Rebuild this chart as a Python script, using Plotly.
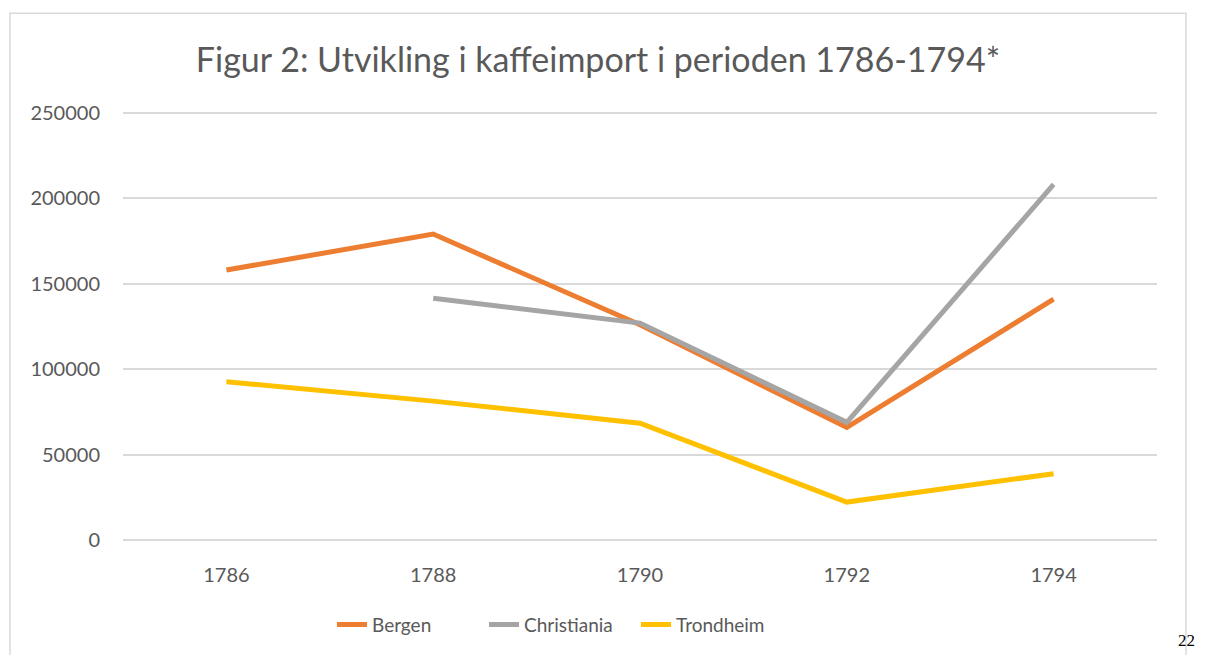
import plotly.graph_objects as go

years = ["1786", "1788", "1790", "1792", "1794"]
bergen = [158000, 179000, 126000, 66000, 141000]
christiania = [None, 141500, 127000, 69000, 208000]
trondheim = [92700, 81400, 68500, 22400, 39000]

title = "Figur 2: Utvikling i kaffeimport i perioden 1786-1794*"
FONT = "Lato"
TXT = "#595959"

OFF = 8  # page body margin
YMAX = 250000
PAD = 1500  # small range padding so edge gridlines are drawn
W, H = 1206 - OFF, 655 - OFF
pw = 1034
ppv = 427 / YMAX  # pixels per value
ph = ppv * (YMAX + 2 * PAD)
L = 123 - OFF
T = 113 - OFF - PAD * ppv
R = W - L - pw
B = H - T - ph

def px_x(x):
    return (x - OFF - L) / pw

def px_y(y):
    return (T + ph - (y - OFF)) / ph

fig = go.Figure()
for name, vals, col in [("Bergen", bergen, "#ED7D31"),
                        ("Christiania", christiania, "#A5A5A5"),
                        ("Trondheim", trondheim, "#FFC000")]:
    fig.add_trace(go.Scatter(x=years, y=vals, name=name, mode="lines",
                             line=dict(color=col, width=5), connectgaps=False))

fig.update_layout(
    width=W, height=H,
    margin=dict(l=L, r=R, t=T, b=B),
    paper_bgcolor="white", plot_bgcolor="white",
    font=dict(family=FONT, color=TXT),
    title=dict(text=title, x=(598 - OFF) / W, xanchor="center", xref="container",
               y=1 - (60 - OFF) / H, yanchor="middle", yref="container",
               font=dict(size=34, color=TXT, family=FONT)),
    legend=dict(orientation="h", x=px_x(332), xanchor="left", y=px_y(624), yanchor="middle",
                font=dict(size=19, color=TXT, family=FONT),
                entrywidthmode="pixels", entrywidth=107,
                bgcolor="rgba(0,0,0,0)"),
    xaxis=dict(type="category", range=[-0.5, 4.5], showgrid=False, showline=False,
               zeroline=False, ticks="", tickfont=dict(size=20, color=TXT), ticklabelstandoff=18),
    yaxis=dict(range=[-PAD, YMAX + PAD], tickvals=[0, 50000, 100000, 150000, 200000, 250000],
               tickformat="d", showgrid=True,
               gridcolor="#D9D9D9", gridwidth=1.5, zeroline=False, showline=False,
               ticks="", tickfont=dict(size=20, color=TXT), ticklabelstandoff=22),
    shapes=[dict(type="rect", xref="paper", yref="paper",
                 x0=px_x(10), x1=px_x(1186), y0=px_y(662), y1=px_y(14),
                 line=dict(color="#D9D9D9", width=1.5), fillcolor="rgba(0,0,0,0)", layer="below")],
    annotations=[dict(text="22", xref="paper", yref="paper", x=px_x(1197), y=px_y(640),
                      xanchor="right", yanchor="middle", showarrow=False,
                      font=dict(family="Liberation Serif", size=17, color="black"))],
)

fig.write_html("out.html")
